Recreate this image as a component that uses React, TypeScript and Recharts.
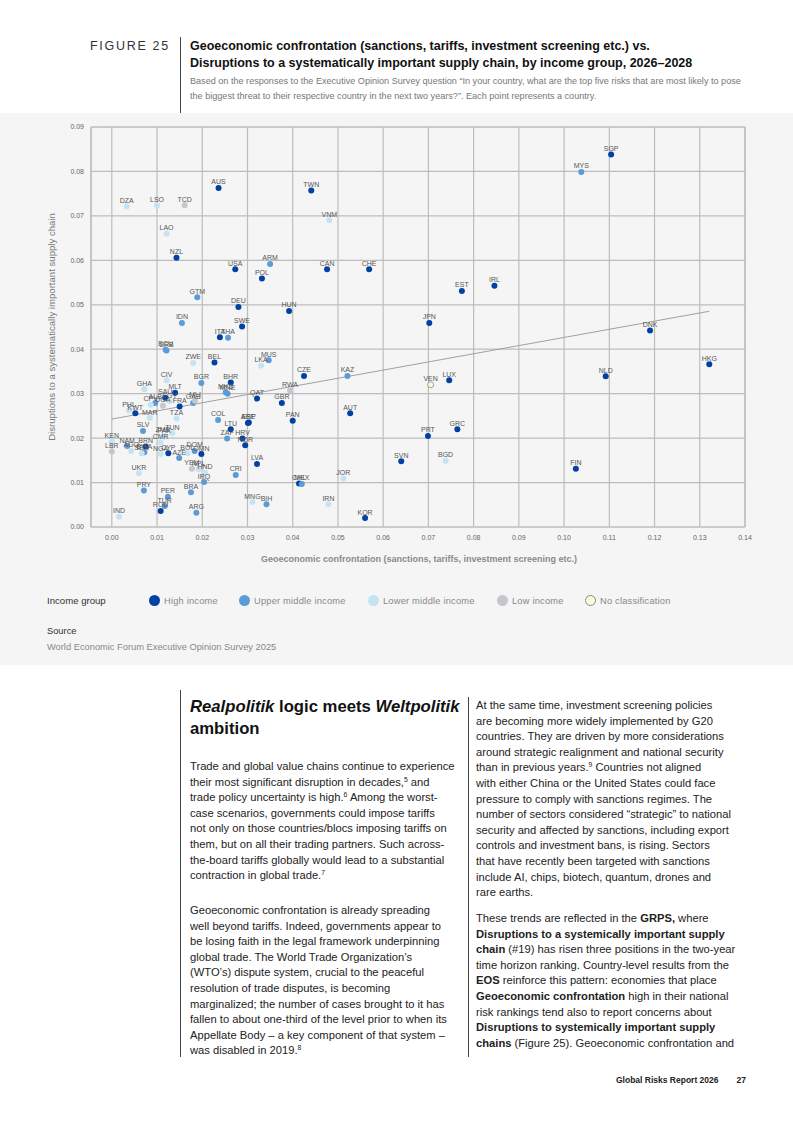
import React from 'react';
import { ScatterChart, Scatter, XAxis, YAxis, CartesianGrid, ReferenceLine, LabelList } from 'recharts';

// [country, geoeconomic confrontation share, supply-chain disruption share]
const highIncome: [string, number, number][] = [
  ['AUS', 0.0236, 0.0763], ['NZL', 0.0143, 0.0606], ['USA', 0.0273, 0.058], ['POL', 0.0332, 0.0559],
  ['DEU', 0.028, 0.0495], ['HUN', 0.0392, 0.0486], ['TWN', 0.0441, 0.0757], ['CAN', 0.0476, 0.058],
  ['CHE', 0.0569, 0.058], ['EST', 0.0774, 0.0531], ['IRL', 0.0846, 0.0543], ['SGP', 0.1104, 0.0838],
  ['DNK', 0.119, 0.0442], ['HKG', 0.1321, 0.0366], ['NLD', 0.1092, 0.0339], ['FIN', 0.1026, 0.0131],
  ['CZE', 0.0425, 0.034], ['LUX', 0.0746, 0.033], ['GBR', 0.0376, 0.0279], ['AUT', 0.0527, 0.0256],
  ['PAN', 0.04, 0.0239], ['PRT', 0.0699, 0.0205], ['GRC', 0.0764, 0.022], ['SVN', 0.064, 0.0148],
  ['CHL', 0.0414, 0.0098], ['KOR', 0.056, 0.002], ['JPN', 0.0702, 0.0459], ['SWE', 0.0288, 0.0451],
  ['ITA', 0.0239, 0.0427], ['BEL', 0.0227, 0.037], ['BHR', 0.0263, 0.0325], ['MLT', 0.014, 0.0302],
  ['SAU', 0.0118, 0.0291], ['QAT', 0.0321, 0.0289], ['FRA', 0.015, 0.0271], ['KWT', 0.0052, 0.0256],
  ['ARE', 0.0301, 0.0234], ['ESP', 0.0303, 0.0235], ['LTU', 0.0263, 0.022], ['BRN', 0.0075, 0.0181],
  ['CYP', 0.0125, 0.0166], ['OMN', 0.0198, 0.0164], ['ROU', 0.0108, 0.0036], ['LVA', 0.0321, 0.0142],
  ['NOR', 0.0295, 0.0184], ['HRV', 0.0289, 0.0199],
];

const upperMiddle: [string, number, number][] = [
  ['ARM', 0.035, 0.0592], ['GTM', 0.0189, 0.0517], ['MYS', 0.1038, 0.0799], ['KAZ', 0.0521, 0.034],
  ['MEX', 0.042, 0.0097], ['IDN', 0.0155, 0.0459], ['THA', 0.0257, 0.0426], ['SRB', 0.0121, 0.0397],
  ['ECU', 0.0119, 0.0399], ['MUS', 0.0347, 0.0375], ['BGR', 0.0198, 0.0324], ['MKD', 0.0252, 0.0303],
  ['MNE', 0.0256, 0.03], ['GAB', 0.018, 0.0279], ['ALB', 0.0096, 0.0279], ['COL', 0.0235, 0.0241],
  ['SLV', 0.0069, 0.0216], ['NAM', 0.0034, 0.0182], ['BWA', 0.0072, 0.0168], ['AZE', 0.0149, 0.0155],
  ['DOM', 0.0183, 0.0171], ['IRQ', 0.0204, 0.0101], ['PRY', 0.0071, 0.0082], ['PER', 0.0124, 0.0068],
  ['TUR', 0.0117, 0.0047], ['BRA', 0.0175, 0.0078], ['ARG', 0.0187, 0.0032], ['BIH', 0.0342, 0.0051],
  ['CRI', 0.0274, 0.0117], ['ZAF', 0.0255, 0.0199],
];

const lowerMiddle: [string, number, number][] = [
  ['DZA', 0.0033, 0.0721], ['LSO', 0.01, 0.0724], ['LAO', 0.0121, 0.066], ['VNM', 0.0481, 0.069],
  ['BGD', 0.0738, 0.0149], ['JOR', 0.0512, 0.0109], ['IRN', 0.0479, 0.0051], ['ZWE', 0.018, 0.0369],
  ['LKA', 0.033, 0.0363], ['CIV', 0.0121, 0.033], ['GHA', 0.0072, 0.031], ['CPV', 0.0086, 0.0275],
  ['EGY', 0.0128, 0.0283], ['PHL', 0.0038, 0.0262], ['MAR', 0.0084, 0.0245], ['TZA', 0.0143, 0.0244],
  ['TUN', 0.0134, 0.0211], ['KEN', 0.0, 0.0193], ['AGO', 0.0043, 0.0171], ['SEN', 0.0066, 0.0166],
  ['CMR', 0.0108, 0.019], ['NGA', 0.0108, 0.0164], ['BOL', 0.0167, 0.0166], ['NPL', 0.0192, 0.013],
  ['HND', 0.0206, 0.0122], ['UKR', 0.006, 0.0121], ['IND', 0.0016, 0.0023], ['MNG', 0.0311, 0.0056],
  ['ZMB', 0.0113, 0.0205], ['PAK', 0.0116, 0.0203],
];

const lowIncome: [string, number, number][] = [
  ['TCD', 0.0161, 0.0724], ['RWA', 0.0394, 0.0307], ['UGA', 0.0113, 0.0273], ['MLI', 0.0184, 0.0284],
  ['YEM', 0.0177, 0.0131], ['LBR', 0.0, 0.017],
];

const noClassification: [string, number, number][] = [['VEN', 0.0705, 0.032]];

const incomeGroups = ['High income', 'Upper middle income', 'Lower middle income', 'Low income', 'No classification'];
const xTicks = [0, 0.01, 0.02, 0.03, 0.04, 0.05, 0.06, 0.07, 0.08, 0.09, 0.1, 0.11, 0.12, 0.13, 0.14];
const yTicks = [0, 0.01, 0.02, 0.03, 0.04, 0.05, 0.06, 0.07, 0.08, 0.09];

const groupData = [highIncome, upperMiddle, lowerMiddle, lowIncome, noClassification];
const fills = ['#0041a3', '#5b9bd6', '#c4e4f5', '#c6c6cb', '#fcfbd9'];
const strokes = ['none', 'none', 'none', 'none', '#8a8a8a'];
const legendLefts = [149, 239, 368, 497, 585];

const X_MIN = -0.0046;
const FONT = '"Liberation Sans", Arial, Helvetica, sans-serif';

const toPoints = (rows: [string, number, number][]) => rows.map(([code, geo, supply]) => ({ code, geo, supply }));

// least-squares trend over all countries
const allRows = groupData.flat();
const n = allRows.length;
const mx = allRows.reduce((s, r) => s + r[1], 0) / n;
const my = allRows.reduce((s, r) => s + r[2], 0) / n;
const slope =
  allRows.reduce((s, r) => s + (r[1] - mx) * (r[2] - my), 0) / allRows.reduce((s, r) => s + (r[1] - mx) ** 2, 0);
const intercept = my - slope * mx;
const xLo = Math.min(...allRows.map((r) => r[1]));
const xHi = Math.max(...allRows.map((r) => r[1]));
const trend = [
  { geo: xLo, supply: intercept + slope * xLo },
  { geo: xHi, supply: intercept + slope * xHi },
];

const Dot = (props: any) => {
  const { cx, cy, fill, stroke } = props;
  if (cx == null || cy == null) return <g />;
  return <circle cx={cx} cy={cy} r={3} fill={fill} stroke={stroke} strokeWidth={stroke === 'none' ? 0 : 0.8} />;
};

const Sup = ({ children }: { children: React.ReactNode }) => (
  <sup style={{ fontSize: 6.8, lineHeight: 0, verticalAlign: 4 }}>{children}</sup>
);

const Lines = ({ lines, top, left }: { lines: React.ReactNode[]; top: number; left: number }) => (
  <div style={{ position: 'absolute', top, left, fontSize: 11.2, lineHeight: '15.6px', color: '#222', whiteSpace: 'nowrap' }}>
    {lines.map((l, i) => (
      <div key={i}>{l}</div>
    ))}
  </div>
);

const leftPara1 = [
  'Trade and global value chains continue to experience',
  <>their most significant disruption in decades,<Sup>5</Sup> and</>,
  <>trade policy uncertainty is high.<Sup>6</Sup> Among the worst-</>,
  'case scenarios, governments could impose tariffs',
  'not only on those countries/blocs imposing tariffs on',
  'them, but on all their trading partners. Such across-',
  'the-board tariffs globally would lead to a substantial',
  <>contraction in global trade.<Sup>7</Sup></>,
];
const leftPara2 = [
  'Geoeconomic confrontation is already spreading',
  'well beyond tariffs. Indeed, governments appear to',
  'be losing faith in the legal framework underpinning',
  'global trade. The World Trade Organization’s',
  '(WTO’s) dispute system, crucial to the peaceful',
  'resolution of trade disputes, is becoming',
  'marginalized; the number of cases brought to it has',
  'fallen to about one-third of the level prior to when its',
  'Appellate Body – a key component of that system –',
  <>was disabled in 2019.<Sup>8</Sup></>,
];
const rightPara1 = [
  'At the same time, investment screening policies',
  'are becoming more widely implemented by G20',
  'countries. They are driven by more considerations',
  'around strategic realignment and national security',
  <>than in previous years.<Sup>9</Sup> Countries not aligned</>,
  'with either China or the United States could face',
  'pressure to comply with sanctions regimes. The',
  'number of sectors considered “strategic” to national',
  'security and affected by sanctions, including export',
  'controls and investment bans, is rising. Sectors',
  'that have recently been targeted with sanctions',
  'include AI, chips, biotech, quantum, drones and',
  'rare earths.',
];
const rightPara2 = [
  <>These trends are reflected in the <b>GRPS,</b> where</>,
  <b>Disruptions to a systemically important supply</b>,
  <><b>chain</b> (#19) has risen three positions in the two-year</>,
  'time horizon ranking. Country-level results from the',
  <><b>EOS</b> reinforce this pattern: economies that place</>,
  <><b>Geoeconomic confrontation</b> high in their national</>,
  'risk rankings tend also to report concerns about',
  <b>Disruptions to systemically important supply</b>,
  <><b>chains</b> (Figure 25). Geoeconomic confrontation and</>,
];

export default function App() {
  return (
    <div style={{ position: 'absolute', left: 0, top: 0, width: 793, height: 1121, background: '#fff', fontFamily: FONT, overflow: 'hidden' }}>
      {/* header */}
      <div style={{ position: 'absolute', left: 90, top: 39, fontSize: 12.5, letterSpacing: 1.7, color: '#333' }}>FIGURE 25</div>
      <div style={{ position: 'absolute', left: 180, top: 37, width: 1, height: 76, background: '#444' }} />
      <div style={{ position: 'absolute', left: 190, top: 38, fontSize: 12.5, fontWeight: 700, lineHeight: '17px', color: '#111', whiteSpace: 'nowrap' }}>
        <div>Geoeconomic confrontation (sanctions, tariffs, investment screening etc.) vs.</div>
        <div>Disruptions to a systematically important supply chain, by income group, 2026–2028</div>
      </div>
      <div style={{ position: 'absolute', left: 190, top: 74, fontSize: 9.1, lineHeight: '15px', color: '#777', whiteSpace: 'nowrap' }}>
        <div>Based on the responses to the Executive Opinion Survey question “In your country, what are the top five risks that are most likely to pose</div>
        <div>the biggest threat to their respective country in the next two years?”. Each point represents a country.</div>
      </div>

      {/* chart panel */}
      <div style={{ position: 'absolute', left: 0, top: 113, width: 793, height: 552, background: '#f5f5f5' }} />
      <div style={{ position: 'absolute', left: 0, top: 113 }}>
        <ScatterChart width={793} height={460} margin={{ top: 14, right: 48, bottom: 26, left: 61 }}>
          <CartesianGrid stroke="#bdbdbd" strokeWidth={1.2} />
          <XAxis
            type="number"
            dataKey="geo"
            domain={[X_MIN, 0.14]}
            ticks={xTicks}
            allowDataOverflow
            height={20}
            tickLine={false}
            axisLine={{ stroke: '#bdbdbd', strokeWidth: 1.2 }}
            tickMargin={2}
            tickFormatter={(v: number) => v.toFixed(2)}
            tick={{ fontSize: 7, fill: '#666', fontFamily: FONT }}
          />
          <YAxis
            type="number"
            dataKey="supply"
            domain={[0, 0.09]}
            ticks={yTicks}
            width={30}
            tickLine={false}
            axisLine={{ stroke: '#bdbdbd', strokeWidth: 1.2 }}
            tickMargin={1}
            tickFormatter={(v: number) => v.toFixed(2)}
            tick={{ fontSize: 7, fill: '#666', fontFamily: FONT }}
          />
          <ReferenceLine x={0.14} stroke="#bdbdbd" strokeWidth={1.2} />
          <ReferenceLine y={0.09} stroke="#bdbdbd" strokeWidth={1.2} />
          <Scatter
            data={trend}
            isAnimationActive={false}
            line={{ stroke: '#a0a0a0', strokeWidth: 1 }}
            shape={() => <g />}
            legendType="none"
          />
          {groupData.map((rows, gi) => (
            <Scatter
              key={incomeGroups[gi]}
              name={incomeGroups[gi]}
              data={toPoints(rows)}
              fill={fills[gi]}
              isAnimationActive={false}
              shape={(p: any) => <Dot {...p} fill={fills[gi]} stroke={strokes[gi]} />}
            >
              <LabelList dataKey="code" position="top" offset={-1} style={{ fontSize: 7, fill: '#555', fontFamily: FONT }} />
            </Scatter>
          ))}
        </ScatterChart>
      </div>
      <div
        style={{
          position: 'absolute', left: 51, top: 327, transform: 'translate(-50%, -50%) rotate(-90deg)',
          fontSize: 9.6, color: '#777', whiteSpace: 'nowrap',
        }}
      >
        Disruptions to a systematically important supply chain
      </div>
      <div style={{ position: 'absolute', left: 0, width: 838, top: 554, textAlign: 'center', fontSize: 9, fontWeight: 700, color: '#8a8a8a' }}>
        Geoeconomic confrontation (sanctions, tariffs, investment screening etc.)
      </div>

      {/* legend */}
      <div style={{ position: 'absolute', left: 47, top: 595, fontSize: 9.6, color: '#333' }}>Income group</div>
      {incomeGroups.map((g, i) => (
        <div
          key={g}
          style={{
            position: 'absolute', left: legendLefts[i], top: 595, display: 'flex', alignItems: 'center',
            fontSize: 9.3, letterSpacing: 0.2, color: '#888', whiteSpace: 'nowrap',
          }}
        >
          <span
            style={{
              display: 'inline-block', width: 11, height: 11, borderRadius: '50%', background: fills[i], marginRight: 4,
              boxSizing: 'border-box', border: strokes[i] === 'none' ? 'none' : `1px solid ${strokes[i]}`,
            }}
          />
          {g}
        </div>
      ))}
      <div style={{ position: 'absolute', left: 47, top: 626, fontSize: 9.3, color: '#333' }}>Source</div>
      <div style={{ position: 'absolute', left: 47, top: 642, fontSize: 9.3, color: '#888' }}>World Economic Forum Executive Opinion Survey 2025</div>

      {/* body text */}
      <div style={{ position: 'absolute', left: 180, top: 690, width: 1, height: 367, background: '#444' }} />
      <div style={{ position: 'absolute', left: 468, top: 697, width: 1, height: 360, background: '#444' }} />
      <div style={{ position: 'absolute', left: 190, top: 696, fontSize: 16.7, fontWeight: 700, lineHeight: '22px', color: '#111', whiteSpace: 'nowrap' }}>
        <div><i>Realpolitik</i> logic meets <i>Weltpolitik</i></div>
        <div>ambition</div>
      </div>
      <Lines lines={leftPara1} top={759} left={190} />
      <Lines lines={leftPara2} top={903} left={190} />
      <Lines lines={rightPara1} top={698} left={476} />
      <Lines lines={rightPara2} top={911} left={476} />

      {/* footer */}
      <div style={{ position: 'absolute', left: 616, top: 1075, fontSize: 8.5, fontWeight: 700, color: '#222', whiteSpace: 'nowrap' }}>
        Global Risks Report 2026
        <span style={{ marginLeft: 18 }}>27</span>
      </div>
    </div>
  );
}
